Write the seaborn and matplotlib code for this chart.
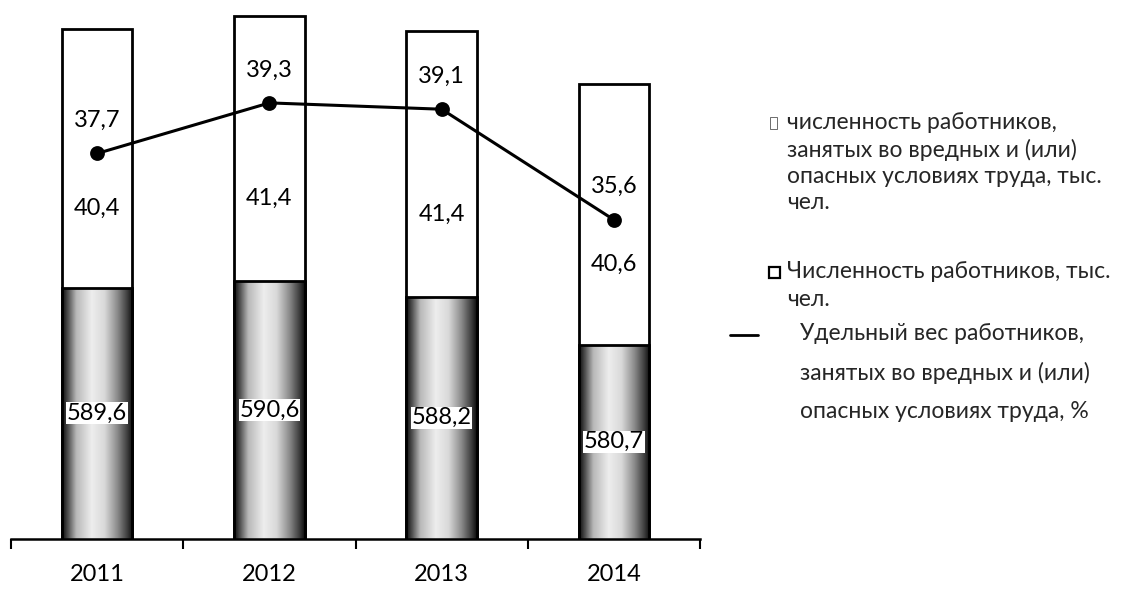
import numpy as np
import pandas as pd
import matplotlib
matplotlib.use('Agg')
import matplotlib.pyplot as plt
import seaborn as sns
from matplotlib.patches import Rectangle
from matplotlib.lines import Line2D

years = ['2011', '2012', '2013', '2014']
workers = [589.6, 590.6, 588.2, 580.7]      # численность работников, тыс. чел.
harmful = [40.4, 41.4, 41.4, 40.6]          # занятые во вредных условиях, тыс. чел.
share = [37.7, 39.3, 39.1, 35.6]            # удельный вес, %

df = pd.DataFrame({'year': years, 'workers': workers,
                   'harmful': harmful, 'share': share})
df['total'] = df['workers'] + df['harmful']

sns.set_theme(style='white')
plt.rcParams['font.family'] = ['Lato', 'Open Sans', 'DejaVu Sans']

W, H = 1137, 589
fig = plt.figure(figsize=(W / 100, H / 100), dpi=100)
ax = fig.add_axes([0.0097, 0.085, 0.606, 0.9066])


def fpos(px, py):
    # pixel position (from top-left) -> figure fraction
    return px / W, 1 - py / H


# stacked bars: total first (white top part), workers on top of it
sns.barplot(data=df, x='year', y='total', color='white', saturation=1,
            edgecolor='black', linewidth=2, width=0.41, ax=ax, zorder=0.2)
sns.barplot(data=df, x='year', y='workers', color='white', saturation=1,
            edgecolor='black', linewidth=2, width=0.41, ax=ax, zorder=1)

ylow, yhigh = 550.4, 633.7

# cylinder-like shading for the lower part
t = np.linspace(0, 1, 200)
shade = np.interp(t, [0, 0.08, 0.2, 0.42, 0.6, 0.78, 0.92, 1],
                  [0.05, 0.3, 0.72, 0.93, 0.85, 0.55, 0.25, 0.05])
for p in ax.patches[len(years):]:
    p.set_facecolor('none')
    x0, w, h = p.get_x(), p.get_width(), p.get_height()
    im = ax.imshow(shade[None, :], cmap='gray', vmin=0, vmax=1, aspect='auto',
                   extent=(x0, x0 + w, ylow, h), zorder=0.5)
    im.set_clip_path(p)

ax.set_xlim(-0.5, len(years) - 0.5)
ax.set_ylim(ylow, yhigh)

# value labels
for i, (w, h) in enumerate(zip(workers, harmful)):
    ax.annotate(f'{w:.1f}'.replace('.', ','), xy=(i, (ylow + w) / 2),
                ha='center', va='center', fontsize=17, color='black',
                bbox=dict(fc='white', ec='none', pad=0.5), zorder=3)
    ax.annotate(f'{h:.1f}'.replace('.', ','), xy=(i, w + h / 2),
                xytext=(0, -50), textcoords='offset pixels',
                ha='center', va='center', fontsize=17, color='black', zorder=3)

# line on secondary axis
ax2 = ax.twinx()
sns.pointplot(data=df, x='year', y='share', color='black', markers='o',
              linestyles='-', markersize=9, linewidth=2.2, ax=ax2)
ax2.set_ylim(25.5, 42.4)
ax2.set_xlim(-0.5, len(years) - 0.5)
for i, s in enumerate(share):
    ax2.annotate(f'{s:.1f}'.replace('.', ','), xy=(i, s), xytext=(0, 33),
                 textcoords='offset pixels', ha='center', va='center',
                 fontsize=17, color='black')

for a in (ax, ax2):
    for side in ('top', 'right', 'left'):
        a.spines[side].set_visible(False)
    a.set_yticks([])
    a.set_xlabel('')
    a.set_ylabel('')
ax2.spines['bottom'].set_visible(False)
ax.spines['bottom'].set_color('black')
ax.spines['bottom'].set_linewidth(1.8)

ax.set_xticks(range(len(years)))
ax.set_xticklabels(years, fontsize=17)
ax.set_xticks(np.arange(len(years) + 1) - 0.5, minor=True)
ax.tick_params(axis='x', which='major', length=0, pad=18, colors='black')
ax.tick_params(axis='x', which='minor', bottom=True, length=7, width=1.5,
               color='black', direction='out')
ax2.tick_params(axis='x', length=0, labelbottom=False)

# legend, laid out by hand (markers sit at the first line of each label)
fs_leg = 16.5
x0, y0 = fpos(770, 129)
fig.add_artist(Rectangle((x0, y0), 7 / W, 12 / H, transform=fig.transFigure,
                         facecolor='white', edgecolor='#555', hatch='::',
                         linewidth=0.6))
fig.text(*fpos(787, 112),
         'численность работников,\nзанятых во вредных и (или)\n'
         'опасных условиях труда, тыс.\nчел.',
         fontsize=fs_leg, va='top', ha='left', linespacing=1.3)

x0, y0 = fpos(769, 278)
fig.add_artist(Rectangle((x0, y0), 11 / W, 11 / H, transform=fig.transFigure,
                         facecolor='white', edgecolor='black', linewidth=1.6))
fig.text(*fpos(787, 261), 'Численность работников, тыс.\nчел.',
         fontsize=fs_leg, va='top', ha='left', linespacing=1.4)

xa, ya = fpos(730, 335)
xb, _ = fpos(758, 335)
fig.add_artist(Line2D([xa, xb], [ya, ya], transform=fig.transFigure,
                      color='black', linewidth=2))
fig.text(*fpos(800, 323),
         'Удельный вес работников,\nзанятых во вредных и (или)\n'
         'опасных условиях труда, %',
         fontsize=fs_leg, va='top', ha='left', linespacing=2.0)

fig.savefig('out.png', dpi=100)
